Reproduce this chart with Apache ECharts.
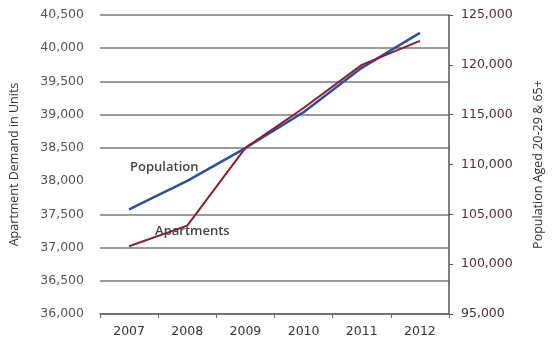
<!DOCTYPE html>
<html>
<head>
<meta charset="utf-8">
<script src="https://cdn.jsdelivr.net/npm/echarts@6/dist/echarts.min.js"></script>
<style>
  html, body { margin: 0; padding: 0; background: #fff; }
  #chart-container { width: 553px; height: 347px; }
</style>
</head>
<body>
<div id="chart-container"></div>
<script>
// 数据
var years = ['2007', '2008', '2009', '2010', '2011', '2012'];
var apartments = [37020, 37330, 38500, 39100, 39750, 40110];
var population = [105500, 108350, 111650, 115250, 119700, 123200];

var seriesNames = ['Apartments', 'Population'];
var leftAxisName = 'Apartment Demand in Units';
var rightAxisName = 'Population Aged 20-29 & 65+';

var myChart = echarts.init(document.getElementById('chart-container'));

// 38,000 那条网格线在原图里缺失
var gridColors = ['#7a7a7a', '#7a7a7a', '#7a7a7a', '#7a7a7a', 'rgba(0,0,0,0)',
                  '#7a7a7a', '#7a7a7a', '#7a7a7a', '#7a7a7a', '#7a7a7a'];

function seriesLabel(text, pos) {
    return {
        show: true, formatter: text, position: pos,
        align: 'left', verticalAlign: 'middle',
        color: '#444', fontFamily: 'Open Sans', fontSize: 13, fontWeight: 600
    };
}

var option = {
    backgroundColor: '#fff',
    animation: false,
    grid: { left: 100, right: 93, top: 15, bottom: 33 },
    xAxis: {
        type: 'category',
        data: years,
        boundaryGap: true,
        axisLine: { lineStyle: { color: '#666', width: 1.5 } },
        axisTick: { show: true, inside: false, length: 4, lineStyle: { color: '#666' } },
        axisLabel: { color: '#333', fontFamily: 'DejaVu Sans', fontSize: 12.5, margin: 11 }
    },
    yAxis: [{
        type: 'value',
        min: 36000,
        max: 40500,
        interval: 500,
        name: leftAxisName,
        nameLocation: 'middle',
        nameRotate: 90,
        nameGap: 79,
        nameTextStyle: { color: '#333', fontFamily: 'Open Sans', fontSize: 12.5 },
        axisLine: { show: false },
        axisTick: { show: false },
        axisLabel: {
            color: '#555', fontFamily: 'DejaVu Sans', fontSize: 12.5, margin: 16,
            formatter: function (v) { return v.toLocaleString('en-US'); }
        },
        splitLine: { show: true, lineStyle: { color: gridColors, width: 1.5 } }
    }, {
        type: 'value',
        min: 95000,
        max: 125000,
        interval: 5000,
        position: 'right',
        name: rightAxisName,
        nameLocation: 'middle',
        nameRotate: 90,
        nameGap: 83,
        nameTextStyle: { color: '#333', fontFamily: 'Open Sans', fontSize: 12.5 },
        axisLine: { show: true, lineStyle: { color: '#555', width: 1.5 } },
        axisTick: { show: true, inside: false, length: 4, lineStyle: { color: '#555' } },
        axisLabel: {
            color: '#4a2f3f', fontFamily: 'DejaVu Sans', fontSize: 12.5, margin: 12,
            formatter: function (v) { return v.toLocaleString('en-US'); }
        },
        splitLine: { show: false }
    }],
    series: [{
        name: seriesNames[1],
        type: 'line',
        yAxisIndex: 1,
        data: population.map(function (v, i) {
            return i === 0 ? { value: v, label: seriesLabel(seriesNames[1], [2, -41]) } : v;
        }),
        symbol: 'circle',
        symbolSize: 2,
        itemStyle: { color: 'rgba(0,0,0,0)', borderWidth: 0 },
        lineStyle: { color: '#2c4fa3', width: 2.5 },
        z: 2
    }, {
        name: seriesNames[0],
        type: 'line',
        yAxisIndex: 0,
        data: apartments.map(function (v, i) {
            return i === 0 ? { value: v, label: seriesLabel(seriesNames[0], [27, -14]) } : v;
        }),
        symbol: 'circle',
        symbolSize: 2,
        itemStyle: { color: 'rgba(0,0,0,0)', borderWidth: 0 },
        lineStyle: { color: '#8c1d2e', width: 2 },
        z: 3
    }]
};

myChart.setOption(option);
</script>
</body>
</html>
